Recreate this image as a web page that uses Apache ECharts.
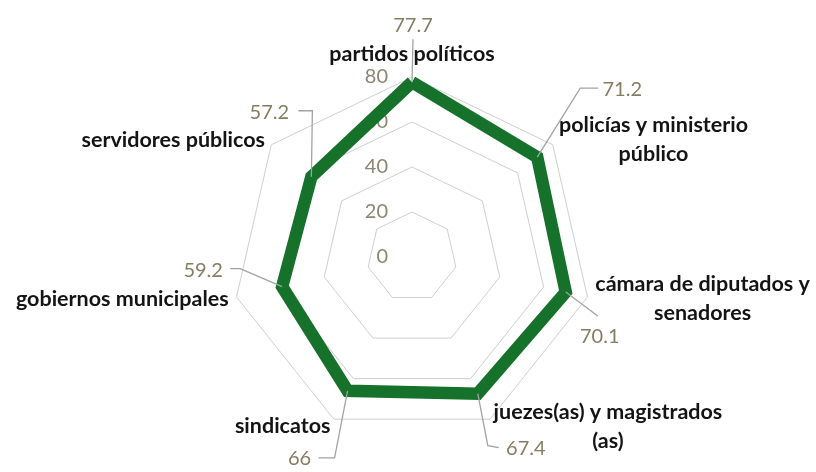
<!DOCTYPE html>
<html><head><meta charset="utf-8">
<script src="https://cdn.jsdelivr.net/npm/echarts@6/dist/echarts.min.js"></script>
<style>html,body{margin:0;padding:0;background:#fff}#c{width:816px;height:472px}</style>
</head><body><div id="c"></div>
<script>
// ---- data (clockwise from the top) ----
const categories = [
  'partidos políticos',
  'policías y ministerio\npúblico',
  'cámara de diputados y\nsenadores',
  'juezes(as) y magistrados\n(as)',
  'sindicatos',
  'gobiernos municipales',
  'servidores públicos'
];
const values = [77.7, 71.2, 70.1, 67.4, 66, 59.2, 57.2];
const axisMin = 0;
const axisMax = 80;
const tickStep = 20;

// ---- label placement (style): offsets relative to each vertex / label centre ----
const labelOffsets = [[1,-57],[85,-68],[34,44],[48,55],[-48,68],[-79,-16],[-42,-64]];
const leaderElbows = [[0,14],[-42,-1],[-2,-20],[-38,-3],[35,-1],[37,-2],[43,-2]];
const leaderEnds   = [[0,14],[-24,-1],[-2,-20],[-27,-1],[19,-1],[27,-2],[29,-2]];

const CX = 412, CY = 257, R = 180;
const valueColor = '#857d62';
const tickColor = '#8b8772';

// radar lays indicators counter-clockwise: reorder so they appear clockwise
const order = [0].concat(categories.map((_, i) => i).slice(1).reverse());

const chart = echarts.init(document.getElementById('c'), null, {renderer: 'canvas'});
chart.setOption({
  animation: false,
  backgroundColor: '#ffffff',
  radar: {
    center: [CX, CY],
    radius: R,
    startAngle: 90,
    shape: 'polygon',
    splitNumber: (axisMax - axisMin) / tickStep,
    nameGap: 8,
    indicator: order.map((k, j) => {
      const o = {name: categories[k], min: axisMin, max: axisMax};
      if (j === 0) o.axisLabel = {show: true};
      return o;
    }),
    axisName: {
      formatter: n => n.split('\n').map(s => '{n|' + s + '}').join('\n'),
      rich: {n: {fontFamily: 'Lato', fontWeight: 'bold', fontSize: 21.5, color: '#141414', lineHeight: 29, align: 'center'}}
    },
    axisLine: {show: false},
    axisTick: {show: false},
    axisLabel: {show: false, color: tickColor, fontFamily: 'Lato', fontSize: 20, margin: 24},
    splitLine: {lineStyle: {color: '#cfcfcf', width: 1}},
    splitArea: {show: false}
  },
  polar: {center: [CX, CY], radius: R},
  angleAxis: {type: 'category', data: categories, startAngle: 90, clockwise: true, boundaryGap: false, show: false},
  radiusAxis: {type: 'value', min: axisMin, max: axisMax, interval: tickStep, show: false},
  series: [
    {
      type: 'radar', radarIndex: 0, symbol: 'none', silent: true,
      lineStyle: {color: '#16712b', width: 12.5, join: 'miter'},
      data: [{value: order.map(k => values[k])}]
    },
    {
      type: 'custom', coordinateSystem: 'polar', polarIndex: 0, silent: true, z: 5,
      data: values.map((v, i) => [v, i]),
      renderItem: function (params, api) {
        const i = params.dataIndex;
        const p = api.coord([api.value(0), api.value(1)]);
        const o = labelOffsets[i], b = leaderElbows[i], e = leaderEnds[i];
        const lx = p[0] + o[0], ly = p[1] + o[1];
        return {
          type: 'group',
          children: [
            {type: 'polyline', shape: {points: [[p[0], p[1]], [lx + b[0], ly + b[1]], [lx + e[0], ly + e[1]]]},
             style: {stroke: '#a3a3a3', lineWidth: 1.3, fill: null}},
            {type: 'text', x: lx, y: ly,
             style: {text: String(values[i]), align: 'center', verticalAlign: 'middle',
                     font: '20px Lato', fill: valueColor}}
          ]
        };
      }
    }
  ]
});
</script>
</body></html>
